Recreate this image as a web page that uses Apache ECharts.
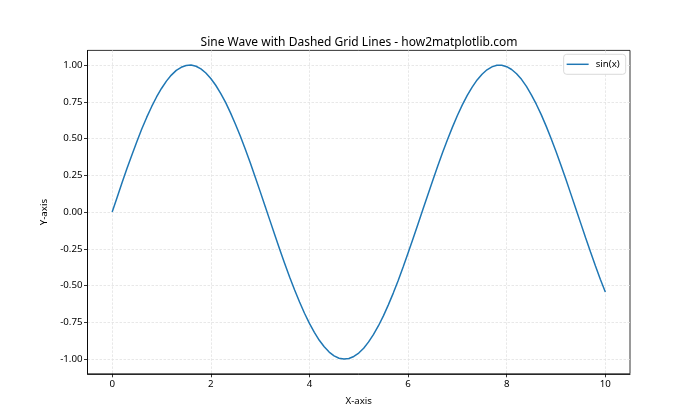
<!DOCTYPE html>
<html>
<head>
<meta charset="utf-8">
<script src="https://cdn.jsdelivr.net/npm/echarts@6/dist/echarts.min.js"></script>
<style>html,body{margin:0;padding:0;background:#fff}#c{width:700px;height:420px}</style>
</head>
<body>
<div id="c"></div>
<script>
const xValues = [0.0,0.1,0.2,0.3,0.4,0.5,0.6,0.7,0.8,0.9,1.0,1.1,1.2,1.3,1.4,1.5,1.6,1.7,1.8,1.9,2.0,2.1,2.2,2.3,2.4,2.5,2.6,2.7,2.8,2.9,3.0,3.1,3.2,3.3,3.4,3.5,3.6,3.7,3.8,3.9,4.0,4.1,4.2,4.3,4.4,4.5,4.6,4.7,4.8,4.9,5.0,5.1,5.2,5.3,5.4,5.5,5.6,5.7,5.8,5.9,6.0,6.1,6.2,6.3,6.4,6.5,6.6,6.7,6.8,6.9,7.0,7.1,7.2,7.3,7.4,7.5,7.6,7.7,7.8,7.9,8.0,8.1,8.2,8.3,8.4,8.5,8.6,8.7,8.8,8.9,9.0,9.1,9.2,9.3,9.4,9.5,9.6,9.7,9.8,9.9,10.0];
const sinValues = [0.000,0.100,0.199,0.296,0.389,0.479,0.565,0.644,0.717,0.783,0.841,0.891,0.932,0.964,0.985,0.997,1.000,0.992,0.974,0.946,0.909,0.863,0.808,0.746,0.675,0.598,0.516,0.427,0.335,0.239,0.141,0.042,-0.058,-0.158,-0.256,-0.351,-0.443,-0.530,-0.612,-0.688,-0.757,-0.818,-0.872,-0.916,-0.952,-0.978,-0.994,-1.000,-0.996,-0.982,-0.959,-0.926,-0.883,-0.832,-0.773,-0.706,-0.631,-0.551,-0.465,-0.374,-0.279,-0.182,-0.083,0.017,0.117,0.215,0.312,0.405,0.494,0.578,0.657,0.729,0.794,0.850,0.899,0.938,0.968,0.988,0.999,0.999,0.989,0.970,0.941,0.903,0.855,0.798,0.734,0.663,0.585,0.501,0.412,0.319,0.223,0.124,0.025,-0.075,-0.175,-0.272,-0.366,-0.458,-0.544];
const xTicks = [0, 2, 4, 6, 8, 10];
const yTicks = [-1.0, -0.75, -0.5, -0.25, 0.0, 0.25, 0.5, 0.75, 1.0];
const seriesName = 'sin(x)';
const titleText = 'Sine Wave with Dashed Grid Lines - how2matplotlib.com';

const FONT = 'Noto Sans';
const data = xValues.map((x, i) => [x, sinValues[i]]);
const splitStyle = {show: true, lineStyle: {color: '#e2e2e2', width: 0.8, type: [2.5, 1.5]}};

const chart = echarts.init(document.getElementById('c'), null, {renderer: 'canvas'});
chart.setOption({
  animation: false,
  backgroundColor: '#fff',
  textStyle: {fontFamily: FONT},
  title: {
    text: titleText, left: 354, top: 32, textAlign: 'center',
    textStyle: {fontFamily: FONT, fontSize: 12, fontWeight: 'normal', color: '#000'}
  },
  legend: {
    right: 74.3, top: 54.3, orient: 'vertical',
    data: [seriesName],
    icon: 'path://M0,0 L30,0 L30,2 L0,2 Z',
    itemWidth: 22, itemHeight: 1.5, itemGap: 4,
    padding: [5, 6, 5, 3],
    borderColor: '#d0d0d0', borderWidth: 0.8, borderRadius: 3,
    backgroundColor: '#fff',
    textStyle: {fontFamily: FONT, fontSize: 9.7, color: '#000', padding: [0, 0, 0, 2]}
  },
  grid: {left: 87.5, right: 70, top: 50.4, bottom: 46.2, show: true, borderColor: '#000', borderWidth: 0.8, backgroundColor: 'transparent', containLabel: false},
  xAxis: {
    type: 'value', min: -0.5, max: 10.5,
    name: 'X-axis', nameLocation: 'middle', nameGap: 22,
    nameTextStyle: {fontFamily: FONT, fontSize: 9.7, color: '#000'},
    axisLine: {show: true, onZero: false, lineStyle: {color: '#000', width: 0.8}},
    axisTick: {show: true, length: 3.5, lineStyle: {color: '#000', width: 0.8}, customValues: xTicks},
    axisLabel: {customValues: xTicks, fontFamily: FONT, fontSize: 9.7, color: '#000', margin: 5, formatter: v => String(v)},
    splitLine: splitStyle
  },
  yAxis: {
    type: 'value', min: -1.1, max: 1.1,
    name: 'Y-axis', nameLocation: 'middle', nameGap: 38,
    nameTextStyle: {fontFamily: FONT, fontSize: 9.7, color: '#000'},
    axisLine: {show: true, onZero: false, lineStyle: {color: '#000', width: 0.8}},
    axisTick: {show: true, length: 3.5, lineStyle: {color: '#000', width: 0.8}, customValues: yTicks},
    axisLabel: {customValues: yTicks, fontFamily: FONT, fontSize: 9.7, color: '#000', margin: 5, formatter: v => v.toFixed(2)},
    splitLine: splitStyle
  },
  series: [{
    name: seriesName, type: 'line', data: data,
    symbol: 'none', showSymbol: false,
    lineStyle: {color: '#1f77b4', width: 1.5},
    itemStyle: {color: '#1f77b4'}
  }]
});
</script>
</body>
</html>
